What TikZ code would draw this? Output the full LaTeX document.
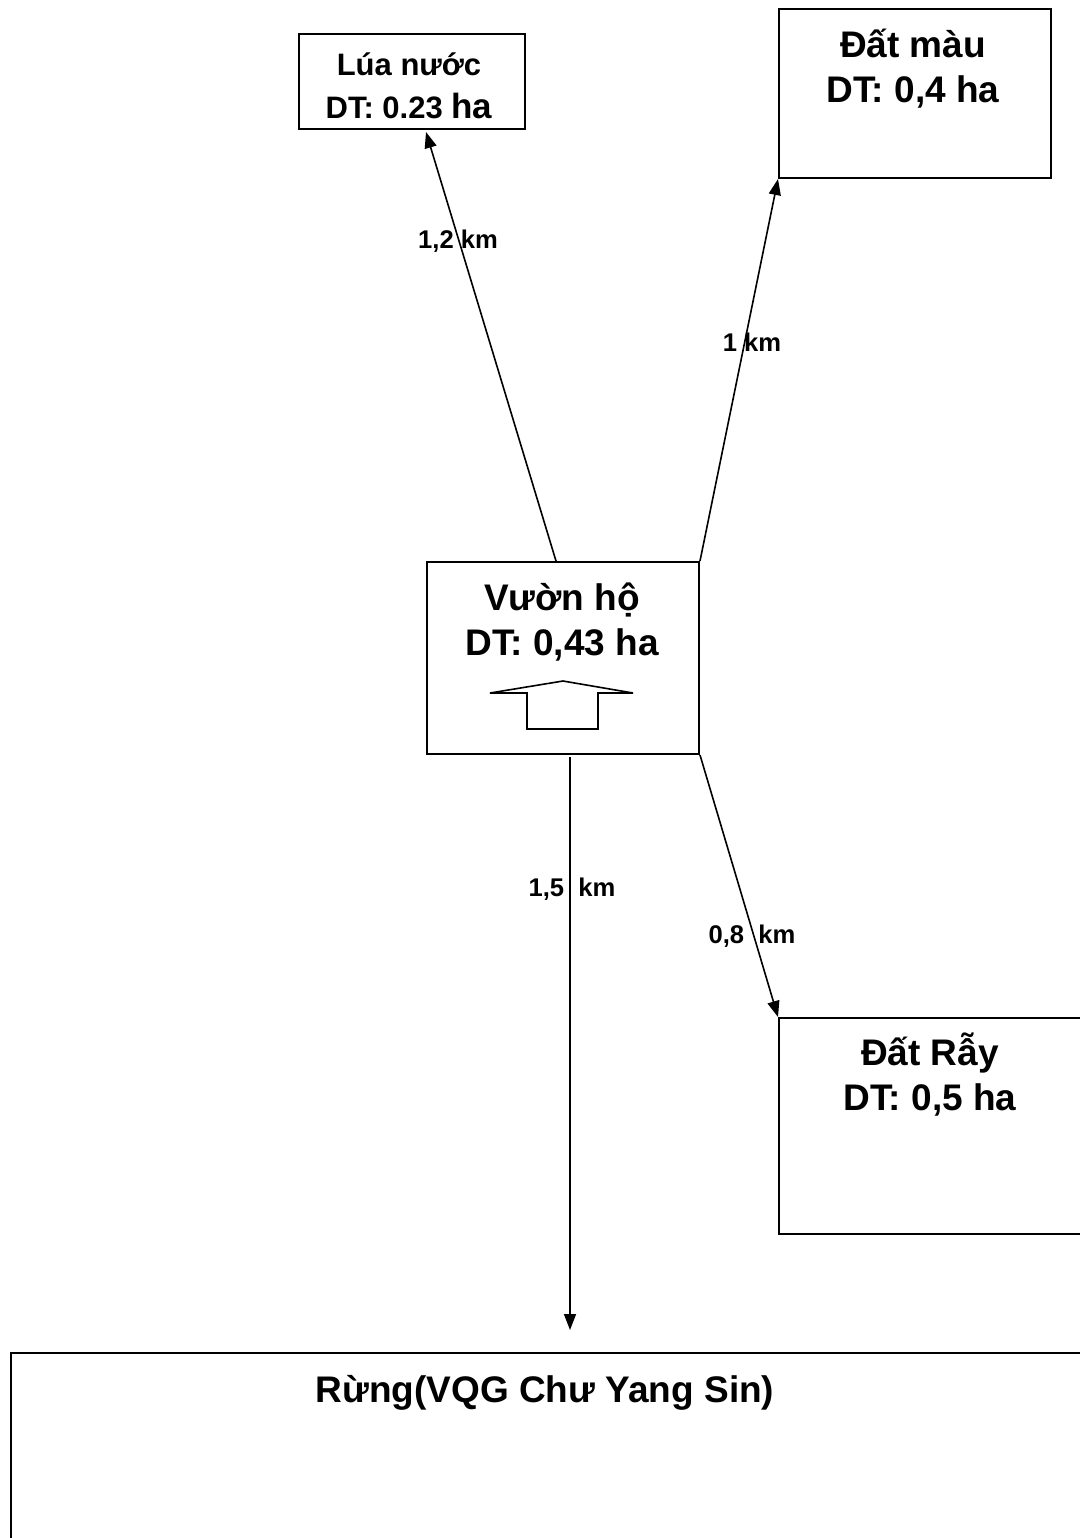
\documentclass[tikz,border=0pt]{standalone}
\usepackage{fontspec}
\setmainfont{Liberation Sans}
\usetikzlibrary{arrows.meta,calc}
\begin{document}
\begin{tikzpicture}[x=0.5pt,y=-0.5pt,
  box/.style={draw,line width=1pt,inner sep=0pt,anchor=north west},
  conn/.style={line width=0.8pt,-{Triangle[length=8pt,width=6pt]}},
  bigtxt/.style={font=\fontsize{18.5}{22}\selectfont\bfseries,anchor=base,inner sep=0pt},
  midtxt/.style={font=\fontsize{15.5}{18}\selectfont\bfseries,anchor=base,inner sep=0pt},
  dist/.style={font=\fontsize{12.8}{15}\selectfont\bfseries,anchor=base,inner sep=0pt}]
\useasboundingbox (0,0) rectangle (1080,1538);
\clip (0,0) rectangle (1080,1538);
% boxes
\node[box,minimum width=113pt,minimum height=47.5pt] (lua) at (298,33) {};
\node[box,minimum width=136pt,minimum height=84.5pt] (mau) at (778,8) {};
\node[box,minimum width=136pt,minimum height=96pt] (vuon) at (426,561) {};
\node[box,minimum width=160pt,minimum height=108pt] (ray) at (778,1017) {};
\node[box,minimum width=550pt,minimum height=150pt] (rung) at (10,1352) {};
% texts
\node[midtxt] (lua1) at (409,75) {Lúa nước};
\node[midtxt] (lua2) at (409,118) {DT: 0.23 {\fontsize{17.5}{20}\selectfont ha}};
\node[bigtxt] (mau1) at (913,57) {Đất màu};
\node[bigtxt] (mau2) at (913,102) {DT: 0,4 ha};
\node[bigtxt] (vuon1) at (562,610) {Vườn hộ};
\node[bigtxt] (vuon2) at (562,655) {DT: 0,43 ha};
\node[bigtxt] (ray1) at (930,1065) {Đất Rẫy};
\node[bigtxt] (ray2) at (930,1110) {DT: 0,5 ha};
\node[bigtxt] (rung1) at (545,1402) {Rừng(VQG Chư Yang Sin)};
% inner arrow symbol
\draw[line width=0.8pt] (490,693) -- (563,681) -- (633,693) -- (598,693)
  -- (598,729) -- (527,729) -- (527,693) -- cycle;
% connector end points
\coordinate (luaS) at ($(vuon.north west)+(130,0)$);
\coordinate (luaE) at ($(lua.south west)+(128,2)$);
\coordinate (rungS) at ($(vuon.south west)+(144,2)$);
\coordinate (rungE) at (570,1330);
% connectors
\draw[conn] (luaS) -- (luaE);
\draw[conn] (vuon.north east) -- (mau.south west);
\draw[conn] (vuon.south east) -- (ray.north west);
\draw[conn] (rungS) -- (rungE);
% distance labels
\node[dist] (d1) at (458,248) {1,2 km};
\node[dist] (d2) at (752,351) {1 km};
\node[dist] (d3) at (572,896) {1,5\ \ km};
\node[dist] (d4) at (752,943) {0,8\ \ km};
\end{tikzpicture}
\end{document}
